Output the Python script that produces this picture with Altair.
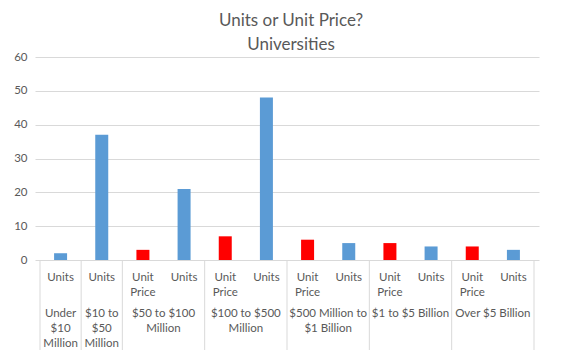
import altair as alt
import pandas as pd

# ---- data ----
groups = [
    ["Under", "$10", "Million"],
    ["$10 to", "$50", "Million"],
    ["$50 to $100", "Million"],
    ["$100 to $500", "Million"],
    ["$500 Million to", "$1 Billion"],
    ["$1 to $5 Billion"],
    ["Over $5 Billion"],
]
group_sizes = [1, 1, 2, 2, 2, 2, 2]
measures = ["Units", "Units",
            "Unit Price", "Units",
            "Unit Price", "Units",
            "Unit Price", "Units",
            "Unit Price", "Units",
            "Unit Price", "Units"]
values = [2, 37, 3, 21, 7, 48, 6, 5, 5, 4, 4, 3]
y_ticks = [0, 10, 20, 30, 40, 50, 60]
title_lines = ["Units or Unit Price?", "Universities"]

# ---- derived tables ----
n = len(measures)
slots = [i + 0.5 for i in range(n)]
bars_df = pd.DataFrame({"slot": slots, "measure": measures, "value": values})

inner_labels = [["Unit", "Price"] if m == "Unit Price" else [m] for m in measures]
inner_df = pd.DataFrame({"slot": slots, "label": inner_labels})

bounds = [0]
for s in group_sizes:
    bounds.append(bounds[-1] + s)
outer_df = pd.DataFrame({
    "slot": [(bounds[i] + bounds[i + 1]) / 2 for i in range(len(groups))],
    "label": groups,
})
sep_df = pd.DataFrame({"slot": bounds})

GRID = "#d9d9d9"
TXT = "#595959"
FONT = "Lato"
FS = 11.5

xscale = alt.Scale(domain=[0, n], nice=False, zero=False)

bars = alt.Chart(bars_df).mark_bar(size=13).encode(
    x=alt.X("slot:Q", scale=xscale, axis=None),
    y=alt.Y("value:Q",
            scale=alt.Scale(domain=[0, 60], nice=False),
            axis=alt.Axis(values=y_ticks, title=None, domain=False, ticks=False,
                          grid=True, gridColor=GRID, labelColor=TXT,
                          labelFont=FONT, labelFontSize=FS, labelPadding=8)),
    color=alt.Color("measure:N",
                    scale=alt.Scale(domain=["Unit Price", "Units"],
                                    range=["#FF0000", "#5B9BD5"]),
                    legend=None),
)

seps = alt.Chart(sep_df).mark_rule(color=GRID, strokeWidth=1).encode(
    x=alt.X("slot:Q", scale=xscale, axis=None),
    y=alt.value(203), y2=alt.value(293),
)

inner = alt.Chart(inner_df).mark_text(
    font=FONT, fontSize=FS, color=TXT, baseline="alphabetic", lineHeight=15
).encode(
    x=alt.X("slot:Q", scale=xscale, axis=None),
    y=alt.value(224),
    text="label",
)

outer = alt.Chart(outer_df).mark_text(
    font=FONT, fontSize=FS, color=TXT, baseline="alphabetic", lineHeight=15
).encode(
    x=alt.X("slot:Q", scale=xscale, axis=None),
    y=alt.value(260),
    text="label",
)

chart = alt.layer(bars, seps, inner, outer).properties(
    width=504,
    height=203,
    title=alt.TitleParams(title_lines, font=FONT, fontSize=17, fontWeight="normal",
                          color=TXT, lineHeight=24, anchor="middle", offset=4,
                          dx=4, dy=7),
    autosize=alt.AutoSizeParams(type="none"),
    padding={"left": 27, "top": 49, "right": 10, "bottom": 90},
    background="white",
).configure_view(stroke=None)

chart.save("out.html", embed_options={"renderer": "svg", "actions": False})
